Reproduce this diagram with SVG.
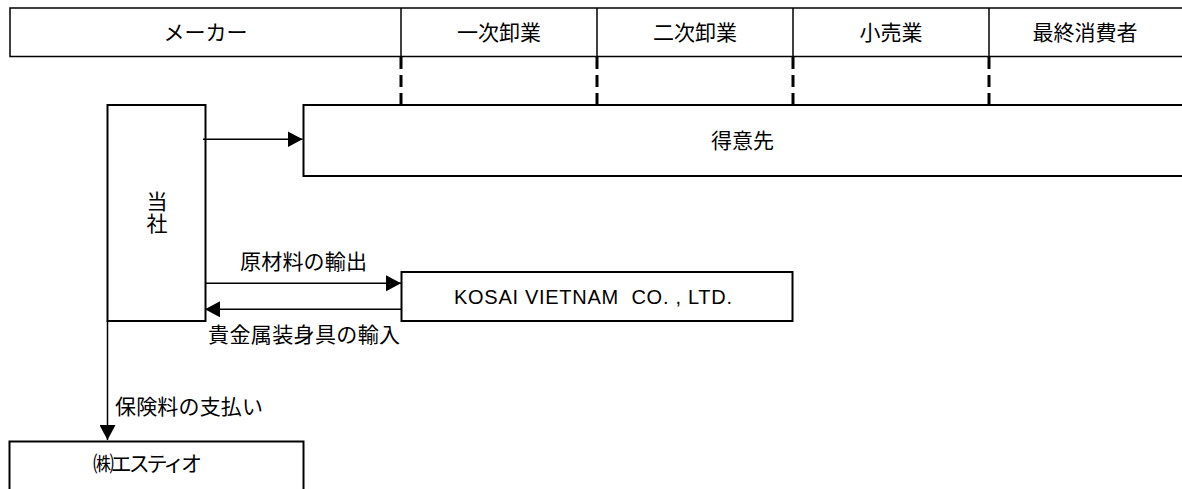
<svg xmlns="http://www.w3.org/2000/svg" width="1182" height="489" viewBox="0 0 1182 489">
  <style>
    .box { fill: #ffffff; stroke: #000000; stroke-width: 2; }
    .hdr { fill: #ffffff; stroke: #000000; stroke-width: 1.5; }
    .div { stroke: #000000; stroke-width: 1.5; }
    .dash { stroke: #000000; stroke-width: 3; stroke-dasharray: 12 6; fill: none; }
    .conn { stroke: #000000; stroke-width: 1.5; fill: none; }
    .t { font-family: "Liberation Sans", "Noto Sans CJK JP", sans-serif; font-size: 21px; fill: #000000; }
    .lat { font-family: "Liberation Sans", "Noto Sans CJK JP", sans-serif; font-size: 20px; fill: #000000; }
    .mid { text-anchor: middle; }
  </style>
  <defs>
    <marker id="arrow" viewBox="0 0 15 16" refX="15" refY="8" markerWidth="15" markerHeight="16" markerUnits="userSpaceOnUse" orient="auto">
      <path d="M0,0 L15,8 L0,16 z" fill="#000000"/>
    </marker>
  </defs>
  <rect width="1182" height="489" fill="#ffffff"/>

  <g id="header">
    <rect class="hdr" x="10" y="8" width="1180" height="48.5"/>
    <line class="div" x1="401" y1="8" x2="401" y2="56.5"/>
    <line class="div" x1="597" y1="8" x2="597" y2="56.5"/>
    <line class="div" x1="793" y1="8" x2="793" y2="56.5"/>
    <line class="div" x1="989" y1="8" x2="989" y2="56.5"/>
    <text class="t mid" x="205.5" y="40">メーカー</text>
    <text class="t mid" x="499" y="40">一次卸業</text>
    <text class="t mid" x="695" y="40">二次卸業</text>
    <text class="t mid" x="891" y="40">小売業</text>
    <text class="t mid" x="1085" y="40">最終消費者</text>
    <line class="dash" x1="401" y1="57" x2="401" y2="105"/>
    <line class="dash" x1="597" y1="57" x2="597" y2="105"/>
    <line class="dash" x1="793" y1="57" x2="793" y2="105"/>
    <line class="dash" x1="989" y1="57" x2="989" y2="105"/>
  </g>

  <g id="tokuisaki">
    <rect class="box" x="303.5" y="105" width="890" height="71"/>
    <text class="t mid" x="742.5" y="148">得意先</text>
  </g>

  <g id="tousha">
    <rect class="box" x="107.5" y="105" width="98" height="216"/>
    <text class="t mid" x="157" y="209">当</text>
    <text class="t mid" x="157" y="231">社</text>
  </g>

  <g id="kosai">
    <rect class="box" x="401.5" y="272" width="391" height="49"/>
    <text class="lat" x="454" y="303.5" textLength="278">KOSAI VIETNAM &#160;CO. , LTD.</text>
  </g>

  <g id="estio">
    <rect class="box" x="9.5" y="441.5" width="294" height="60"/>
    <text class="t" x="93" y="470.5" textLength="109">㈱エスティオ</text>
  </g>

  <g id="connectors">
    <line class="conn" x1="203" y1="139.3" x2="302.5" y2="139.3" marker-end="url(#arrow)"/>
    <line class="conn" x1="206" y1="283.3" x2="401" y2="283.3" marker-end="url(#arrow)"/>
    <line class="conn" x1="401" y1="309.3" x2="205" y2="309.3" marker-end="url(#arrow)"/>
    <line class="conn" x1="107.5" y1="321" x2="107.5" y2="440" marker-end="url(#arrow)"/>
    <text class="t" x="240" y="269" textLength="127">原材料の輸出</text>
    <text class="t" x="208" y="342" textLength="192">貴金属装身具の輸入</text>
    <text class="t" x="115" y="414" textLength="148">保険料の支払い</text>
  </g>
</svg>
